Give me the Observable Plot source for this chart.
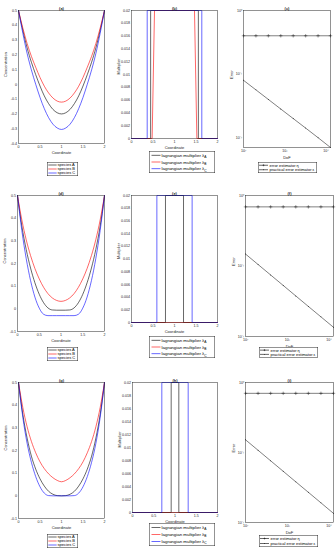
<!DOCTYPE html>
<html><head><meta charset="utf-8">
<script src="https://cdn.jsdelivr.net/npm/d3@7"></script>
<script src="https://cdn.jsdelivr.net/npm/@observablehq/plot@0.6"></script>
<style>
body{margin:0;background:#fff;}
#root{position:relative;width:336px;height:550px;overflow:hidden;background:#fff;}
</style></head>
<body><div id="root"></div>
<script>
// ---------- DATA ----------
const coord = [0,0.1,0.2,0.3,0.4,0.5,0.6,0.7,0.8,0.9,1,1.1,1.2,1.3,1.4,1.5,1.6,1.7,1.8,1.9,2];
// panel (a)
const a_speciesA = [0.5,0.367,0.248,0.15,0.066,-0.011,-0.078,-0.13,-0.169,-0.192,-0.2,-0.192,-0.169,-0.13,-0.078,-0.011,0.066,0.15,0.248,0.367,0.5];
const a_speciesB = [0.5,0.382,0.277,0.19,0.116,0.047,-0.012,-0.058,-0.092,-0.113,-0.12,-0.113,-0.092,-0.058,-0.012,0.047,0.116,0.19,0.277,0.382,0.5];
const a_speciesC = [0.5,0.347,0.21,0.098,0.001,-0.088,-0.164,-0.225,-0.269,-0.295,-0.305,-0.295,-0.269,-0.225,-0.164,-0.088,0.001,0.098,0.21,0.347,0.5];
// panel (d)
const d_speciesA = [0.5,0.365,0.262,0.18,0.115,0.064,0.027,0.004,-0.005,-0.006,-0.006,-0.006,-0.005,0.004,0.027,0.064,0.115,0.18,0.262,0.365,0.5];
const d_speciesB = [0.5,0.392,0.305,0.235,0.178,0.132,0.095,0.067,0.048,0.037,0.033,0.037,0.048,0.067,0.095,0.132,0.178,0.235,0.305,0.392,0.5];
const d_speciesC = [0.5,0.345,0.222,0.125,0.052,0.003,-0.024,-0.03,-0.03,-0.03,-0.03,-0.03,-0.03,-0.03,-0.024,0.003,0.052,0.125,0.222,0.345,0.5];
// panel (g)
const g_speciesA = [0.5,0.36,0.255,0.175,0.118,0.075,0.043,0.02,0.007,0.001,0,0.001,0.007,0.02,0.043,0.075,0.118,0.175,0.255,0.36,0.5];
const g_speciesB = [0.5,0.39,0.305,0.24,0.19,0.15,0.12,0.097,0.08,0.068,0.062,0.068,0.08,0.097,0.12,0.15,0.19,0.24,0.305,0.39,0.5];
const g_speciesC = [0.5,0.347,0.232,0.148,0.085,0.04,0.012,0.001,0,0,0,0,0,0.001,0.012,0.04,0.085,0.148,0.232,0.347,0.5];
// multipliers (b), (e), (h): breakpoints x and values
const b_multA_x = [0,0.445,0.445,1.555,1.555,2], b_multA_y = [0,0,0.02,0.02,0,0];
const b_multB_x = [0,0.48,0.535,1.465,1.52,2],  b_multB_y = [0,0,0.02,0.02,0,0];
const b_multC_x = [0,0.365,0.365,1.635,1.635,2], b_multC_y = [0,0,0.02,0.02,0,0];
const e_multA_x = [0,0.79,0.79,1.21,1.21,2], e_multA_y = [0,0,0.02,0.02,0,0];
const e_multB_x = [0,2], e_multB_y = [0,0];
const e_multC_x = [0,0.59,0.59,1.41,1.41,2], e_multC_y = [0,0,0.02,0.02,0,0];
const h_multA_x = [0,0.91,0.91,1.09,1.09,2], h_multA_y = [0,0,0.02,0.02,0,0];
const h_multB_x = [0,2], h_multB_y = [0,0];
const h_multC_x = [0,0.69,0.69,1.31,1.31,2], h_multC_y = [0,0,0.02,0.02,0,0];
// error panels (c), (f), (i)
const dof = [100,200,400,800,1600,3200,6400,12800];
const c_eta = [0.4,0.4,0.4,0.4,0.4,0.4,0.4,0.4];
const c_eps = [0.0796,0.0563,0.0398,0.0281,0.0199,0.0141,0.00995,0.00697];
const f_eta = [0.69,0.69,0.69,0.69,0.69,0.69,0.69,0.69];
const f_eps = [0.148,0.105,0.0746,0.053,0.0376,0.0267,0.019,0.0135];
const i_eta = [0.7,0.7,0.7,0.7,0.7,0.7,0.7,0.7];
const i_eps = [0.152,0.1076,0.0761,0.0539,0.0381,0.027,0.0191,0.0135];
// ticks
const coordTicks = [0,0.5,1,1.5,2];
const concTicks1 = [-0.4,-0.3,-0.2,-0.1,0,0.1,0.2,0.3,0.4,0.5];
const concTicks2 = [-0.1,0,0.1,0.2,0.3,0.4,0.5];
const multTicks = [0,0.002,0.004,0.006,0.008,0.01,0.012,0.014,0.016,0.018,0.02];
const dofTicks = [100,1000,10000];
const errTicks = [0.01,0.1,1];
// labels
const titles = ["(a)","(b)","(c)","(d)","(e)","(f)","(g)","(h)","(i)"];
const speciesNames = ["species A","species B","species C"];
const multNames = ["lagrangian multiplier λ","lagrangian multiplier λ","lagrangian multiplier λ"];
const multSubs = ["A","B","C"];
const errNames = ["error estimator η","practical error estimator ε"];

// ---------- STYLE / LAYOUT ----------
const FONT = "'Liberation Sans', Arial, Helvetica, sans-serif";
const COLORS = ["#000000","#ff0000","#0000ff"];
const AX = "#262626";
const root = document.getElementById("root");
const sup = s => String(s).split("").map(c => ({"-":"⁻","0":"⁰","1":"¹","2":"²","3":"³","4":"⁴"})[c]).join("");

function addPanel(g, cfg) {
  const mL = 18, mT = 8, mR = 4, mB = 14;
  const marks = [
    ...cfg.marks,
    Plot.frame({stroke: AX, strokeWidth: 0.5}),
    Plot.axisX({ticks: cfg.xTicks, tickFormat: cfg.xFormat, tickSize: 0, tickPadding: 1.6, label: null, fontSize: 3.6}),
    Plot.axisY({ticks: cfg.yTicks, tickFormat: cfg.yFormat, tickSize: 0, tickPadding: 1.6, label: null, fontSize: 3.6}),
    Plot.text([cfg.title], {frameAnchor: "top", dy: -1, lineAnchor: "bottom", fontWeight: "bold", fontSize: 4}),
    Plot.text([cfg.xLabel], {frameAnchor: "bottom", dy: cfg.xOff ?? 10.5, lineAnchor: "bottom", fontSize: 4}),
    Plot.text([cfg.yLabel], {frameAnchor: "left", dx: -(cfg.yOff ?? 14), rotate: -90, lineAnchor: "top", fontSize: 4})
  ];
  const svg = Plot.plot({
    width: g.R - g.L + mL + mR, height: g.B - g.T + mT + mB,
    marginLeft: mL, marginTop: mT, marginRight: mR, marginBottom: mB,
    x: cfg.x, y: cfg.y,
    style: {fontFamily: FONT, fontSize: "3.6px", background: "transparent", color: AX, overflow: "visible"},
    marks
  });
  svg.style.position = "absolute";
  svg.style.left = (g.L - mL) + "px";
  svg.style.top = (g.T - mT) + "px";
  root.appendChild(svg);
}

function addLegend(p, rows) {
  const svg = d3.create("svg").attr("width", p.w).attr("height", p.h)
    .style("position","absolute").style("left", p.x+"px").style("top", p.y+"px").style("overflow","visible")
    .attr("font-family", FONT).attr("font-size", p.fs).attr("fill", "#000");
  svg.append("rect").attr("x",0.25).attr("y",0.25).attr("width",p.w-0.5).attr("height",p.h-0.5)
    .attr("fill","#fff").attr("stroke",AX).attr("stroke-width",0.5);
  const rh = (p.h - 2) / rows.length;
  rows.forEach((r, i) => {
    const cy = 1 + rh * (i + 0.5);
    svg.append("line").attr("x1", p.l1).attr("x2", p.l2).attr("y1", cy).attr("y2", cy)
      .attr("stroke", r.color).attr("stroke-width", 0.6);
    const mx = (p.l1 + p.l2) / 2;
    if (r.marker === "plus") {
      svg.append("path").attr("d", `M${mx-1},${cy}H${mx+1}M${mx},${cy-1}V${cy+1}`).attr("stroke","#000").attr("stroke-width",0.4);
    } else if (r.marker === "dot") {
      svg.append("circle").attr("cx", mx).attr("cy", cy).attr("r", 0.45).attr("fill","#000");
    }
    const t = svg.append("text").attr("x", p.tx).attr("y", cy).attr("dy","0.35em").text(r.label);
    if (r.sub) t.append("tspan").attr("font-size", p.fs * 0.75).attr("dy", 1.3).text(r.sub);
  });
  root.appendChild(svg.node());
}

const fmt1 = d => String(Math.round(d * 10) / 10);
const fmt3 = d => String(Math.round(d * 1000) / 1000);
const fmtC = d => String(d);
const fmtLog = d => "10" + sup(Math.round(Math.log10(d)));

function concMarks(series) {
  return series.map((ys, k) => Plot.line(coord.map((x, i) => ({x, y: ys[i]})),
    {x: "x", y: "y", stroke: COLORS[k], strokeWidth: 0.6, curve: "monotone-x"}));
}
function multMarks(series) {
  return series.map(([xs, ys], k) => Plot.line(xs.map((x, i) => ({x, y: ys[i]})),
    {x: "x", y: "y", stroke: COLORS[k], strokeWidth: 0.6}));
}
function errMarks(eta, eps) {
  const data = dof.map((d, i) => ({dof: d, eta: eta[i], eps: eps[i]}));
  return [
    Plot.line(data, {x: "dof", y: "eta", stroke: "#000", strokeWidth: 0.5}),
    Plot.dot(data, {x: "dof", y: "eta", symbol: "plus", r: 1.2, stroke: "#000", strokeWidth: 0.4}),
    Plot.line(data, {x: "dof", y: "eps", stroke: "#000", strokeWidth: 0.5}),
    Plot.dot(data, {x: "dof", y: "eps", r: 0.45, fill: "#000", stroke: null})
  ];
}

const geo = {
  a: {L:18, R:104, T:10, B:143}, b: {L:131, R:217, T:10, B:138}, c: {L:243, R:330, T:10, B:147},
  d: {L:17, R:104, T:195, B:331}, e: {L:131, R:217, T:195, B:322}, f: {L:245, R:333, T:195, B:336},
  g: {L:18, R:104, T:382, B:518}, h: {L:132, R:217, T:382, B:512}, i: {L:245, R:333, T:382, B:522}
};

function conc(g, title, series, yDomain, yTicks) {
  addPanel(g, {title, xLabel: "Coordinate", yLabel: "Concentration",
    x: {domain: [0, 2]}, y: {domain: yDomain}, xTicks: coordTicks, xFormat: fmtC, yTicks, yFormat: fmt1,
    marks: concMarks(series)});
}
function mult(g, title, series) {
  addPanel(g, {title, xLabel: "Coordinate", yLabel: "Multiplier",
    x: {domain: [0, 2]}, y: {domain: [0, 0.02]}, xTicks: coordTicks, xFormat: fmtC, yTicks: multTicks, yFormat: fmt3,
    marks: multMarks(series)});
}
function err(g, title, eta, eps, ymin) {
  addPanel(g, {title, xLabel: "DoF", yLabel: "Error", xOff: 11, yOff: 13.5,
    x: {type: "log", domain: [100, 12800]}, y: {type: "log", domain: [ymin, 1]},
    xTicks: dofTicks, xFormat: fmtLog, yTicks: errTicks, yFormat: fmtLog,
    marks: errMarks(eta, eps)});
}

conc(geo.a, titles[0], [a_speciesA, a_speciesB, a_speciesC], [-0.4, 0.5], concTicks1);
mult(geo.b, titles[1], [[b_multA_x, b_multA_y], [b_multB_x, b_multB_y], [b_multC_x, b_multC_y]]);
err(geo.c, titles[2], c_eta, c_eps, 0.00697);
conc(geo.d, titles[3], [d_speciesA, d_speciesB, d_speciesC], [-0.1, 0.5], concTicks2);
mult(geo.e, titles[4], [[e_multA_x, e_multA_y], [e_multB_x, e_multB_y], [e_multC_x, e_multC_y]]);
err(geo.f, titles[5], f_eta, f_eps, 0.01);
conc(geo.g, titles[6], [g_speciesA, g_speciesB, g_speciesC], [-0.1, 0.5], concTicks2);
mult(geo.h, titles[7], [[h_multA_x, h_multA_y], [h_multB_x, h_multB_y], [h_multC_x, h_multC_y]]);
err(geo.i, titles[8], i_eta, i_eps, 0.01);

const speciesRows = speciesNames.map((n, k) => ({label: n, color: COLORS[k]}));
const multRows = multNames.map((n, k) => ({label: n, sub: multSubs[k], color: COLORS[k]}));
const errRows = [{label: errNames[0], color: "#000", marker: "plus"}, {label: errNames[1], color: "#000", marker: "dot"}];
const spL = {w: 31, l1: 1.3, l2: 9.7, tx: 10.6, fs: 4};
const muL = {w: 66, l1: 2.5, l2: 11.5, tx: 12.6, fs: 4.4};
const erL = {w: 59, l1: 1, l2: 10, tx: 11.5, fs: 4};
addLegend({...spL, x: 47, y: 162, h: 14}, speciesRows);
addLegend({...muL, x: 148.5, y: 151, h: 22}, multRows);
addLegend({...erL, x: 258, y: 162, h: 11}, errRows);
addLegend({...spL, x: 47, y: 347, h: 14}, speciesRows);
addLegend({...muL, x: 148.5, y: 336, h: 22}, multRows);
addLegend({...erL, x: 259, y: 347, h: 10.5}, errRows);
addLegend({...spL, x: 47, y: 534, h: 14}, speciesRows);
addLegend({...muL, x: 148.5, y: 523, h: 23}, multRows);
addLegend({...erL, x: 259, y: 535, h: 12}, errRows);
</script>
</body></html>
